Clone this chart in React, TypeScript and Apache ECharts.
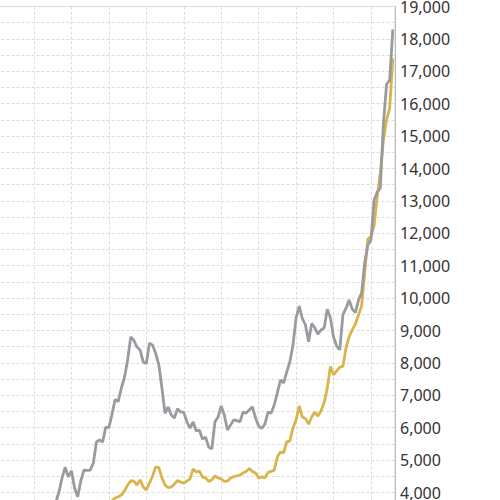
import React, { useEffect, useRef } from "react";
import * as echarts from "echarts";

// Monthly index of first point in each series (gridlines every 12 months)
const GRAY_START = 6;
const GOLD_START = 25;

const grayValues = [
  3600, 3700, 4015, 4450, 4780, 4480, 4670, 4140, 3870, 4355,
  4690, 4680, 4690, 4900, 5560, 5620, 5560, 6020, 6000, 6420,
  6870, 6810, 7225, 7550, 8090, 8800, 8700, 8490, 8400, 8030,
  7980, 8610, 8550, 8290, 7950, 7225, 6440, 6640, 6390, 6300,
  6590, 6480, 6480, 6180, 5990, 6180, 5900, 5930, 5650, 5710,
  5400, 5350, 6180, 6330, 6670, 6390, 5930, 6080, 6240, 6220,
  6180, 6480, 6450, 6550, 6640, 6300, 6050, 5975, 6110, 6480,
  6450, 6700, 7080, 7470, 7380, 7720, 8030, 8550, 9390, 9750,
  9370, 9170, 8650, 9220, 9080, 8890, 9015, 9080, 9660, 9390,
  8800, 8520, 8400, 9480, 9690, 9940, 9660, 9550, 9940, 10160,
  11110, 11640, 11790, 13030, 13270, 13400, 15400, 16600, 16730, 18290,
];

const goldValues = [
  3750, 3830, 3870, 3920, 4050, 4230, 4355, 4355, 4230, 4390,
  4170, 4080, 4290, 4510, 4790, 4770, 4450, 4230, 4150, 4170,
  4260, 4370, 4320, 4290, 4355, 4420, 4725, 4630, 4660, 4480,
  4450, 4340, 4390, 4510, 4450, 4420, 4340, 4355, 4450, 4490,
  4510, 4540, 4600, 4650, 4740, 4650, 4600, 4450, 4480, 4450,
  4620, 4650, 4690, 5100, 5250, 5220, 5560, 5590, 5990, 6240,
  6670, 6330, 6280, 6110, 6330, 6480, 6360, 6520, 6780, 7220,
  7890, 7630, 7750, 7870, 7890, 8460, 8810, 9020, 9200, 9480,
  9760, 10800, 11820, 11900, 12240, 13140, 13890, 14880, 15500, 15870,
  17400,
];

const Y_MIN = 3000;
const Y_MAX = 19000;
const X_MIN = -12;
const X_MAX = 115.7;

// The chart canvas is larger than the visible window and offset, so that
// only part of the plot area shows (as in the reference).
const PAD = 50;
const SIZE = 600;

export default function App() {
  const ref = useRef<HTMLDivElement>(null);

  useEffect(() => {
    if (!ref.current) return;
    const chart = echarts.init(ref.current, undefined, { renderer: "svg" });
    const grid = "#dcdcdc";
    chart.setOption({
      animation: false,
      backgroundColor: "#ffffff",
      grid: {
        left: PAD - 3.44,
        right: SIZE - (PAD + 395),
        top: PAD + 6.5,
        bottom: SIZE - (PAD + 524.9),
        show: true,
        borderColor: "#d6d6d6",
        borderWidth: 1,
        backgroundColor: "transparent",
        outerBoundsMode: "none",
        containLabel: false,
      },
      xAxis: {
        type: "value",
        min: X_MIN,
        max: X_MAX,
        interval: 12,
        axisLine: { show: false, onZero: false },
        axisTick: { show: false },
        axisLabel: { show: false },
        splitLine: { show: true, lineStyle: { type: [3, 2], color: grid, width: 1 } },
      },
      yAxis: {
        type: "value",
        position: "right",
        min: Y_MIN,
        max: Y_MAX,
        interval: 1000,
        axisLine: { show: true, onZero: false, lineStyle: { color: "#b8b8b8", width: 1 } },
        axisTick: { show: false },
        axisLabel: {
          color: "#333333",
          fontSize: 16,
          fontFamily: "Noto Sans",
          margin: 5,
          padding: [4, 0, 0, 0],
          formatter: (v: number) => v.toLocaleString("en-US"),
        },
        splitLine: { show: true, lineStyle: { type: [3, 2], color: grid, width: 1 } },
        minorTick: { show: false, splitNumber: 2 },
        minorSplitLine: { show: true, lineStyle: { type: [3, 2], color: grid, width: 1 } },
      },
      series: [
        {
          type: "line",
          name: "Gold",
          showSymbol: false,
          data: goldValues.map((v, i) => [GOLD_START + i, v]),
          lineStyle: { color: "#d9b44a", width: 2.8 },
          itemStyle: { color: "#d9b44a" },
          z: 2,
        },
        {
          type: "line",
          name: "Gray",
          showSymbol: false,
          data: grayValues.map((v, i) => [GRAY_START + i, v]),
          lineStyle: { color: "#9a9aa1", width: 2.8 },
          itemStyle: { color: "#9a9aa1" },
          z: 3,
        },
      ],
    });
    return () => chart.dispose();
  }, []);

  return (
    <div style={{ position: "fixed", left: 0, top: 0, width: 500, height: 500, overflow: "hidden", background: "#fff" }}>
      <div ref={ref} style={{ position: "absolute", left: -PAD, top: -PAD, width: SIZE, height: SIZE }} />
    </div>
  );
}
